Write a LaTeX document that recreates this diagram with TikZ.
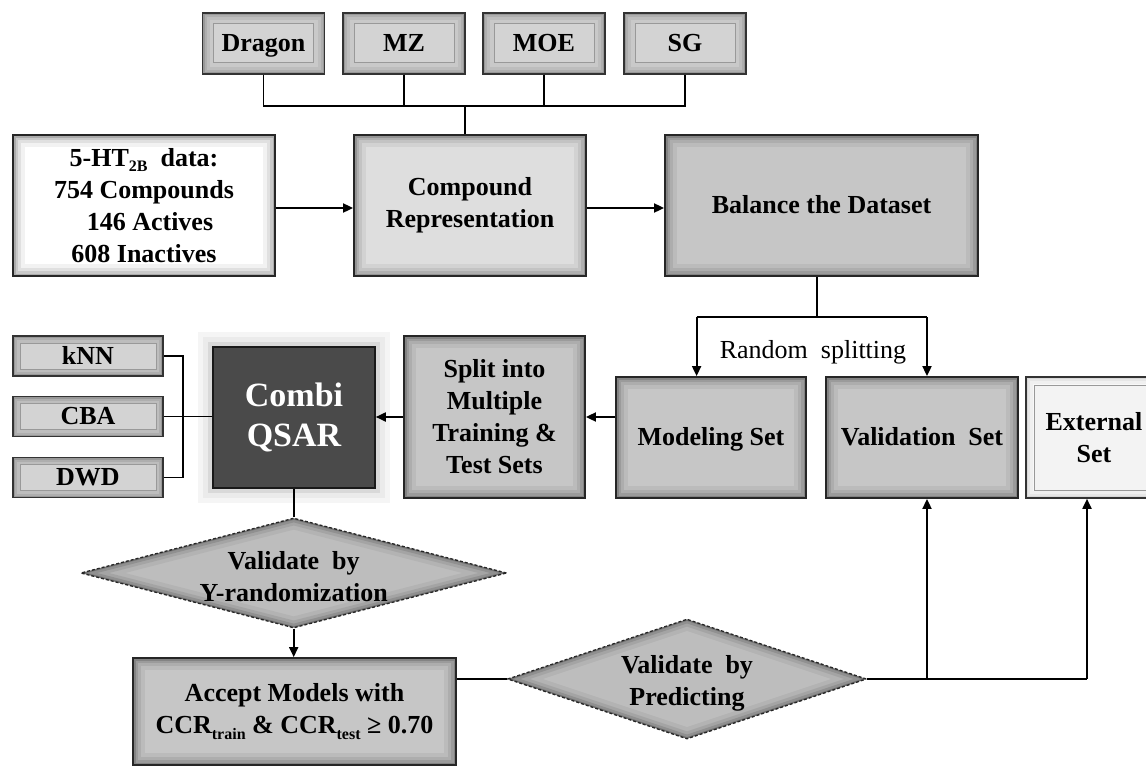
\documentclass[tikz,border=0pt]{standalone}
\usepackage{fontspec}
\setmainfont{Liberation Serif}
\usetikzlibrary{shapes.geometric,arrows.meta}
\newcommand\lsub[1]{\raisebox{-0.45ex}{\fontsize{16}{16}\selectfont #1}}
\definecolor{btnfill}{HTML}{C9C9C9}
\definecolor{btnpanel}{HTML}{D3D3D3}
\definecolor{boxfill}{HTML}{C6C6C6}
\definecolor{lightfill}{HTML}{DEDEDE}
\definecolor{dmfill}{HTML}{BDBDBD}
\definecolor{combifill}{HTML}{4A4A4A}
\definecolor{extfill}{HTML}{F8F8F8}
\definecolor{extpanel}{HTML}{F3F3F3}
\tikzset{
  conn/.style={line width=1.8pt, draw=black},
  arr/.style={conn, -{Triangle[length=10pt,width=9pt]}},
  bfont/.style={font=\bfseries\fontsize{26}{32}\selectfont},
  oneline/.style={text height=16pt, text depth=0pt},
  rim/.style={path picture={
      \foreach \w/\o in {24/0.05,16/0.07,10/0.1,5/0.15,2/0.25}{
        \draw[solid,line width=\w pt,black,opacity=\o]
          (path picture bounding box.north west) rectangle (path picture bounding box.south east);}}},
  bx/.style={draw=black!85, line width=1.8pt, bfont, align=center, inner sep=0pt, rim, fill=#1},
  btn/.style args={#1/#2/#3/#4}{draw=black!80, line width=1.6pt, fill=#1, bfont, inner sep=0pt,
    path picture={
      \foreach \w/\o in {14/0.06,8/0.08,4/0.12,1.5/0.2}{
        \draw[line width=\w pt,black,opacity=\o*#4]
          (path picture bounding box.north west) rectangle (path picture bounding box.south east);}
      \draw[black!40, line width=0.8pt, fill=#2]
        ([shift={(#3,#3)}]path picture bounding box.north west) rectangle
        ([shift={(-#3,-#3)}]path picture bounding box.south east);}},
  dm/.style={diamond, draw=black!85, densely dashed, line width=1.3pt, fill=dmfill,
    inner sep=0pt,
    path picture={
      \foreach \w/\o in {22/0.05,14/0.08,8/0.12,3/0.2}{
        \draw[solid,line width=\w pt,black,opacity=\o]
          (path picture bounding box.north) -- (path picture bounding box.east) --
          (path picture bounding box.south) -- (path picture bounding box.west) -- cycle;}}},
  dmtext/.style={bfont, align=center, inner sep=0pt},
  combistyle/.style={draw=black!90, line width=1.6pt, fill=combifill, text=white,
    font=\bfseries\fontsize{34}{40}\selectfont, align=center, inner sep=0pt,
    preaction={draw=black!4, line width=30pt},
    preaction={draw=black!8, line width=20pt},
    preaction={draw=black!15, line width=10pt}},
}
\begin{document}
\begin{tikzpicture}[x=1pt,y=-1pt]
\useasboundingbox (0,0) rectangle (1146,766);
\clip (0,0) rectangle (1146,766);

% top descriptor buttons
\node[btn={btnfill/btnpanel/11/1}, oneline, minimum width=122pt, minimum height=61pt] (dragon) at (263.5,43.3) {Dragon};
\node[btn={btnfill/btnpanel/11/1}, oneline, minimum width=122pt, minimum height=61pt] (mz) at (404,43.3) {MZ};
\node[btn={btnfill/btnpanel/11/1}, oneline, minimum width=122pt, minimum height=61pt] (moe) at (544,43.3) {MOE};
\node[btn={btnfill/btnpanel/11/1}, oneline, minimum width=122pt, minimum height=61pt] (sg) at (685,43.3) {SG};

% first row
\node[bx=white, minimum width=262pt, minimum height=141pt] (ht) at (144,205.5)
  {5-HT\lsub{2B}\enspace data:\\754 Compounds\\\hspace*{12pt}146 Actives\\608 Inactives};
\node[bx=lightfill, minimum width=232pt, minimum height=141pt] (comprep) at (470,205.5)
  {Compound\\Representation};
\node[bx=boxfill, oneline, minimum width=313pt, minimum height=141pt] (balance) at (821.5,205.5)
  {Balance the Dataset};

% second row
\node[bx=boxfill, minimum width=181pt, minimum height=162pt] (split) at (494.5,417)
  {Split into\\Multiple\\Training \&\\Test Sets};
\node[bx=boxfill, oneline, minimum width=190pt, minimum height=121pt] (modeling) at (711,437.5)
  {Modeling Set};
\node[bx=boxfill, oneline, minimum width=192pt, minimum height=121pt] (validation) at (922,437.5)
  {Validation\enspace Set};
\node[btn={extfill/extpanel/8/0.5}, minimum width=136pt, minimum height=121pt, align=center] (external) at (1094,437.5)
  {External\\Set};
\node[combistyle, minimum width=162pt, minimum height=141pt] (combi) at (294,417.5)
  {Combi\\QSAR};

\node[btn={btnfill/btnpanel/7/1}, oneline, minimum width=150pt, minimum height=40pt] (knn) at (88,356) {kNN};
\node[btn={btnfill/btnpanel/7/1}, oneline, minimum width=150pt, minimum height=40pt] (cba) at (88,416.5) {CBA};
\node[btn={btnfill/btnpanel/7/1}, oneline, minimum width=150pt, minimum height=40pt] (dwd) at (88,477.5) {DWD};

\node[font=\fontsize{26}{30}\selectfont] (rstext) at (813,352) {Random\enspace splitting};

% bottom
\node[dm, aspect=3.87, minimum width=426pt, minimum height=110pt] (d1) at (293.7,573) {};
\node[dmtext] (d1t) at (293.7,577) {Validate\enspace by\\Y-randomization};
\node[bx=boxfill, minimum width=323pt, minimum height=107pt] (accept) at (294.5,711.5)
  {Accept Models with\\CCR\lsub{train} \& CCR\lsub{test} ≥ 0.70};
\node[dm, aspect=2.99, minimum width=359pt, minimum height=120pt] (d2) at (687,679) {};
\node[dmtext] (d2t) at (687,683) {Validate\enspace by\\Predicting};

% connectors
\coordinate (hub) at (465,106);
\draw[conn] (dragon.south) |- (hub) -| (sg.south);
\draw[conn] (mz.south) -- (mz.south |- hub);
\draw[conn] (moe.south) -- (moe.south |- hub);
\draw[conn] (hub) -- (hub |- comprep.north);

\draw[arr] (ht.east |- 0,208) -- (comprep.west |- 0,208);
\draw[arr] (comprep.east |- 0,208) -- (balance.west |- 0,208);

\coordinate (bdown) at (817,317);
\coordinate (rsL) at (696.6,317);
\coordinate (rsR) at (927,317);
\coordinate (extx) at (1087,317);
\draw[conn] (bdown |- balance.south) -- (bdown);
\draw[conn] (rsL) -- (rsR);
\draw[arr] (rsL) -- (rsL |- modeling.north);
\draw[arr] (rsR) -- (rsR |- validation.north);

\draw[arr] (modeling.west |- split.east) -- (split.east);
\draw[arr] (split.west) -- (combi.east |- split.west);

\coordinate (brk) at (183,416.5);
\draw[conn] (knn.east) -| (brk) |- (dwd.east);
\draw[conn] (cba.east) -- (combi.west |- cba.east);

\draw[conn] (combi.south) -- (combi.south |- d1.north);
\draw[arr] (d1.south) -- (d1.south |- accept.north);
\draw[conn] (accept.east |- d2.west) -- (d2.west);
\draw[conn] (d2.east) -- (d2.east -| extx);
\draw[arr] (d2.east -| rsR) -- (rsR |- validation.south);
\draw[arr] (d2.east -| extx) -- (extx |- external.south);
\end{tikzpicture}
\end{document}
